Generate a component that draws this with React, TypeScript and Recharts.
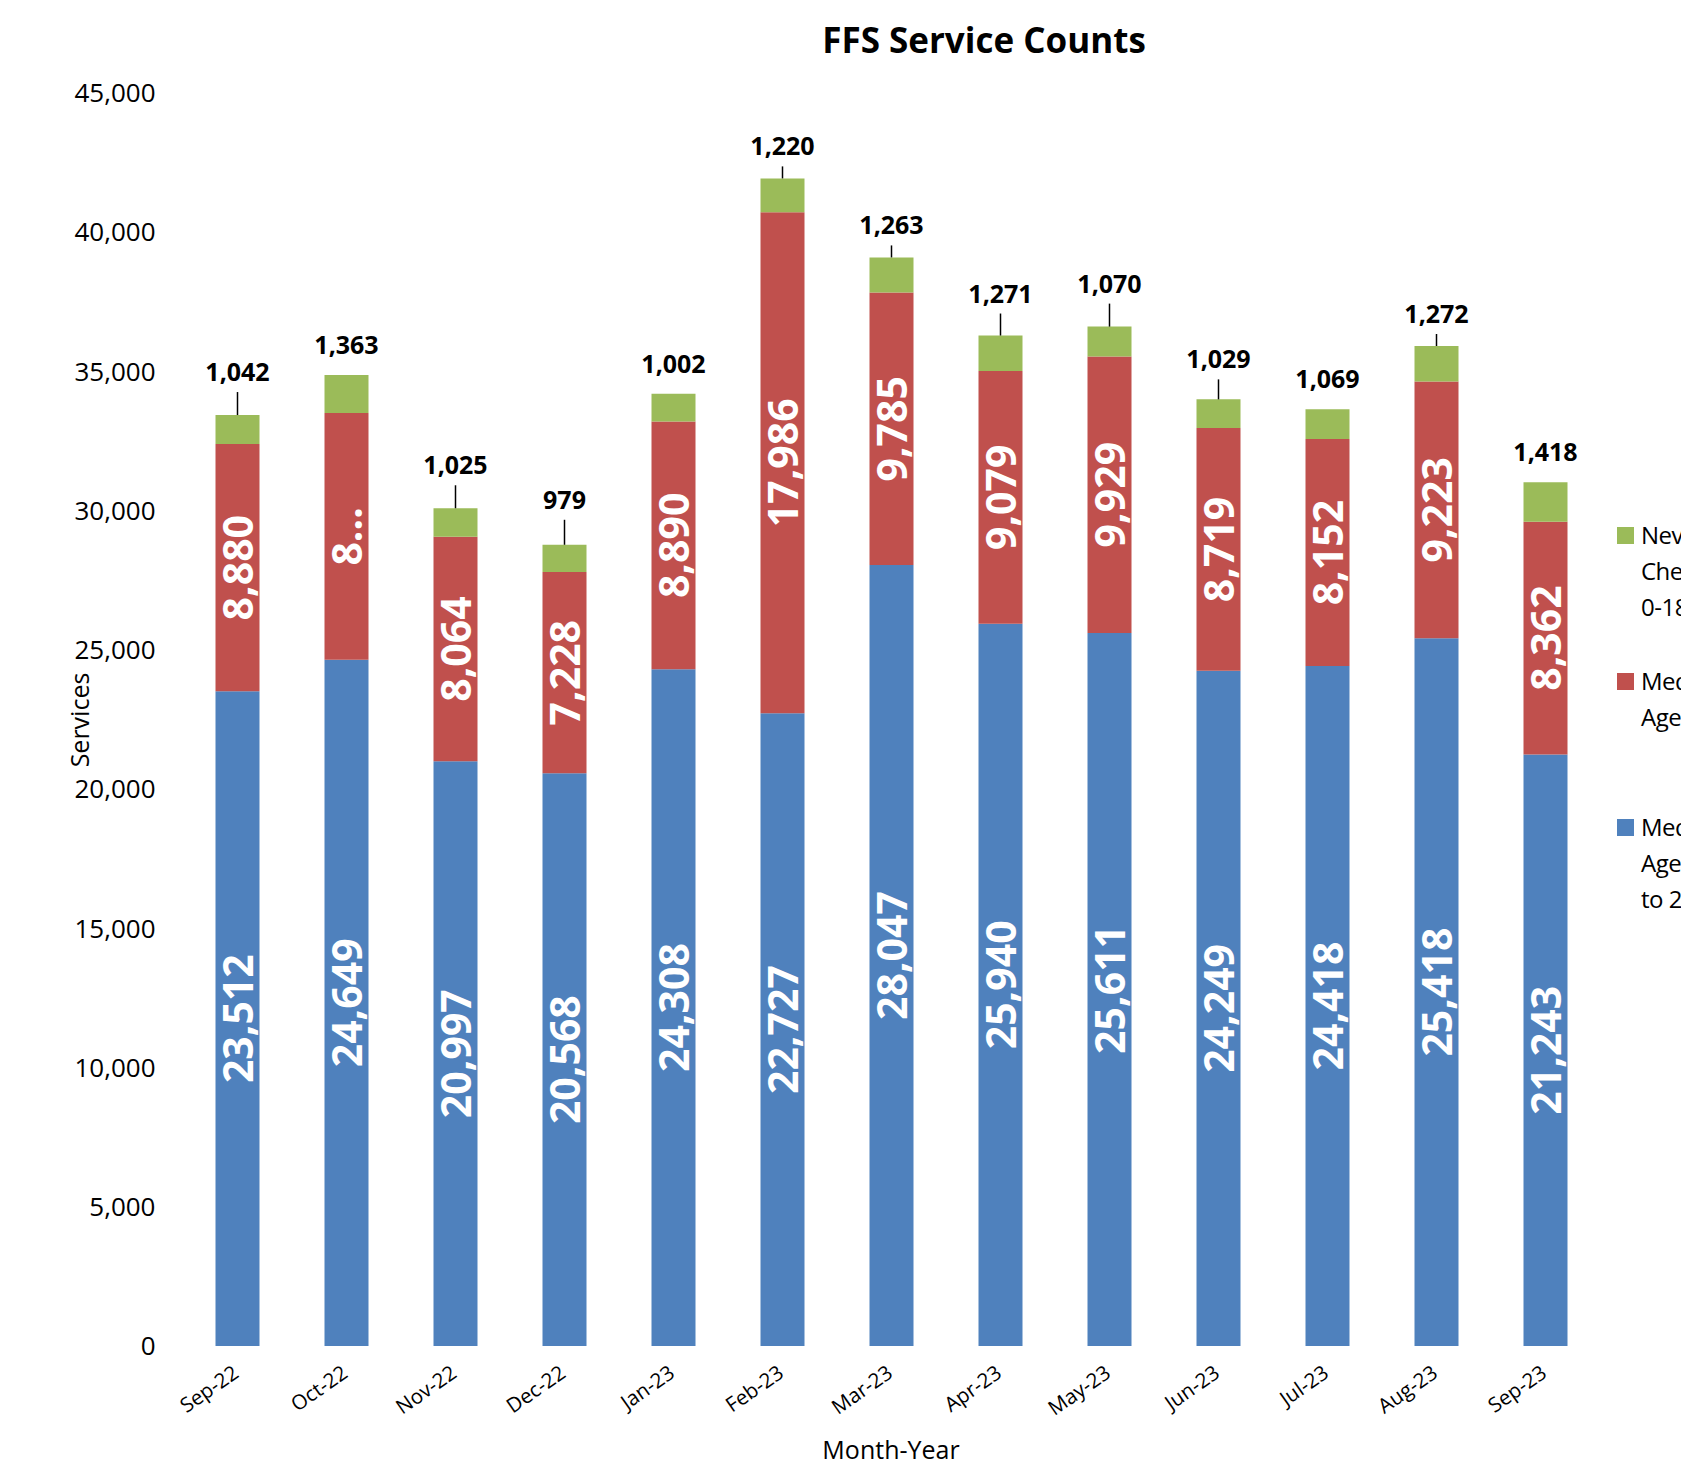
import React from "react";
import { BarChart, Bar, XAxis, YAxis, LabelList } from "recharts";

const months = [
  "Sep-22", "Oct-22", "Nov-22", "Dec-22", "Jan-23", "Feb-23", "Mar-23",
  "Apr-23", "May-23", "Jun-23", "Jul-23", "Aug-23", "Sep-23",
];
// blue segment
const medicaidYouth = [23512, 24649, 20997, 20568, 24308, 22727, 28047, 25940, 25611, 24249, 24418, 25418, 21243];
// red segment (Oct-22 value, its label is cut in the original)
const medicaidAdult = [8880, 8860, 8064, 7228, 8890, 17986, 9785, 9079, 9929, 8719, 8152, 9223, 8362];
// green segment
const checkUp = [1042, 1363, 1025, 979, 1002, 1220, 1263, 1271, 1070, 1029, 1069, 1272, 1418];
const yTicks = [0, 5000, 10000, 15000, 20000, 25000, 30000, 35000, 40000, 45000];

// legend entries, top to bottom, as they wrap in the original
const legendItems = [
  { lines: ["Nevada", "Check Up", "0-18"], color: "#9BBB59" },
  { lines: ["Medicaid", "Ages 19-20"], color: "#C0504D" },
  { lines: ["Medicaid", "Ages 0 up", "to 20"], color: "#4F81BD" },
];

// labels that Excel cut short
const redLabelText: Record<number, string> = { 1: "8..." };
// leader line length above each green segment (0 = label sits close, no line)
const leaderLen = [23, 0, 23, 25, 0, 12, 12, 22, 23, 20, 0, 12, 0];

const FONT = "'Open Sans', 'Noto Sans', sans-serif";
const BLUE = "#4F81BD";
const RED = "#C0504D";
const GREEN = "#9BBB59";

const fmt = (v: number) => v.toLocaleString("en-US");

const data = months.map((m, i) => ({
  month: m,
  blue: medicaidYouth[i],
  red: medicaidAdult[i],
  green: checkUp[i],
}));

const insideLabel = (override?: Record<number, string>) => (props: any) => {
  const x = Number(props.x), y = Number(props.y);
  const w = Number(props.width), h = Number(props.height);
  const cx = x + w / 2;
  const cy = y + h / 2;
  const text = override?.[props.index] ?? fmt(Number(props.value));
  return (
    <text
      x={cx}
      y={cy}
      transform={`rotate(-90 ${cx} ${cy})`}
      textAnchor="middle"
      dominantBaseline="central"
      fill="#FFFFFF"
      fontWeight={700}
      fontSize={41}
      fontFamily={FONT}
    >
      {text}
    </text>
  );
};

const topLabel = (props: any) => {
  const x = Number(props.x), y = Number(props.y), w = Number(props.width);
  const cx = x + w / 2;
  const len = leaderLen[props.index] ?? 0;
  const lift = len ? len + 21 : 31;
  return (
    <g>
      {len > 0 && <line x1={cx} x2={cx} y1={y} y2={y - len} stroke="#000" strokeWidth={1.5} />}
      <text
        x={cx}
        y={y - lift}
        textAnchor="middle"
        dominantBaseline="central"
        fill="#000"
        fontWeight={700}
        fontSize={25}
        fontFamily={FONT}
      >
        {fmt(Number(props.value))}
      </text>
    </g>
  );
};

const MonthTick = (props: any) => {
  const { x, y, payload } = props;
  const tx = Number(x) + 3;
  const ty = Number(y) + 30;
  return (
    <text
      x={tx}
      y={ty}
      transform={`rotate(-35 ${tx} ${ty})`}
      textAnchor="end"
      fontSize={20.5}
      fill="#000"
      fontFamily={FONT}
    >
      {payload.value}
    </text>
  );
};

export default function App() {
  return (
    <div style={{ position: "relative", width: 1681, height: 1461, overflow: "hidden", fontFamily: FONT, background: "#fff" }}>
      <BarChart
        width={1681}
        height={1461}
        data={data}
        margin={{ top: 85, right: 89.5, left: 0, bottom: 43 }}
      >
        <XAxis
          dataKey="month"
          interval={0}
          axisLine={false}
          tickLine={false}
          tickSize={0}
          tickMargin={0}
          height={80}
          tick={<MonthTick />}
        />
        <YAxis
          width={174.5}
          domain={[0, 45000]}
          ticks={yTicks}
          axisLine={false}
          tickLine={false}
          tickSize={0}
          tickMargin={27}
          tickFormatter={fmt}
          tick={{ fill: "#000", fontSize: 26, fontFamily: FONT }}
        />
        <Bar dataKey="blue" stackId="s" fill={BLUE} barSize={44} isAnimationActive={false}>
          <LabelList dataKey="blue" content={insideLabel()} />
        </Bar>
        <Bar dataKey="red" stackId="s" fill={RED} barSize={44} isAnimationActive={false}>
          <LabelList dataKey="red" content={insideLabel(redLabelText)} />
        </Bar>
        <Bar dataKey="green" stackId="s" fill={GREEN} barSize={44} isAnimationActive={false}>
          <LabelList dataKey="green" content={topLabel} />
        </Bar>
      </BarChart>

      <div style={{ position: "absolute", left: 0, width: 1952, top: 10, textAlign: "center", fontSize: 35, fontWeight: 700, lineHeight: "44px" }}>
        FFS Service Counts
      </div>
      <div
        style={{
          position: "absolute", left: 71, top: 712, fontSize: 25, lineHeight: "30px",
          transform: "translate(-50%, -50%) rotate(-90deg)", whiteSpace: "nowrap",
        }}
      >
        Services
      </div>
      <div style={{ position: "absolute", left: 0, width: 1766, top: 1426, textAlign: "center", fontSize: 25, lineHeight: "30px" }}>
        Month-Year
      </div>

      {legendItems.map((item, i) => (
        <div key={i} style={{ position: "absolute", left: 1609, top: 509 + i * 146, whiteSpace: "nowrap" }}>
          <div style={{ position: "absolute", left: 0, top: 10, width: 17, height: 17, background: item.color }} />
          <div style={{ position: "absolute", left: 24, top: 0, fontSize: 24, lineHeight: "36px", letterSpacing: "-0.5px" }}>
            {item.lines.map((l, j) => (
              <div key={j}>{l}</div>
            ))}
          </div>
        </div>
      ))}
    </div>
  );
}
